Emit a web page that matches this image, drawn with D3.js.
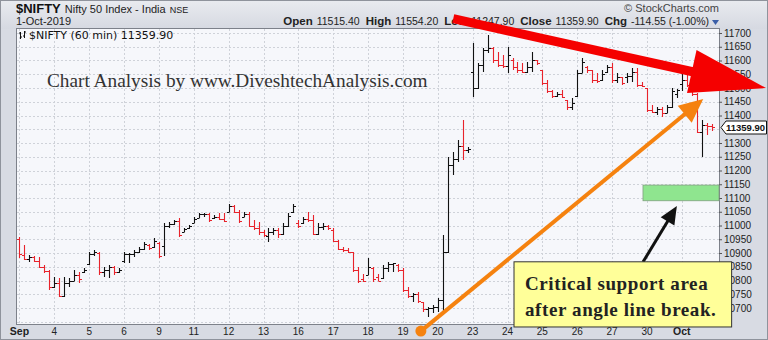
<!DOCTYPE html>
<html>
<head>
<meta charset="utf-8">
<script src="https://cdn.jsdelivr.net/npm/d3@7"></script>
<style>
  body { margin: 0; background: #fff; }
  svg { display: block; font-family: "Liberation Sans", Arial, sans-serif; }
</style>
</head>
<body>
<div id="chart"></div>
<script>
// session labels on the x axis (one per trading day)
const dayLabels = ["Sep", "4", "5", "6", "9", "11", "12", "13", "16", "17", "18", "19", "20", "23", "24", "25", "26", "27", "30", "Oct"];
const boldLabels = ["Sep", "Oct"];
const barsPerDay = 7;
const prevClose = 11023;

// 60 min bars: [open, high, low, close]
const hourly = [
  // Sep 3
  [10950, 10958, 10882, 10895], [10893, 10929, 10875, 10880], [10880, 10893, 10867, 10885], [10885, 10890, 10867, 10872],
  [10872, 10885, 10845, 10850], [10850, 10856, 10827, 10835], [10835, 10838, 10765, 10775],
  // Sep 4
  [10775, 10813, 10773, 10790], [10790, 10809, 10740, 10745], [10745, 10813, 10740, 10790], [10790, 10809, 10776, 10800],
  [10800, 10838, 10798, 10820], [10820, 10831, 10791, 10805], [10830, 10845, 10827, 10840],
  // Sep 5
  [10860, 10904, 10856, 10895], [10895, 10911, 10889, 10905], [10900, 10904, 10820, 10830], [10830, 10849, 10813, 10840],
  [10840, 10856, 10809, 10850], [10848, 10852, 10820, 10830], [10832, 10845, 10828, 10840],
  // Sep 6
  [10870, 10904, 10864, 10895], [10895, 10900, 10864, 10898], [10898, 10911, 10885, 10905], [10905, 10922, 10900, 10915],
  [10915, 10940, 10911, 10932], [10928, 10932, 10911, 10920], [10922, 10955, 10918, 10945],
  // Sep 9
  [10936, 10940, 10882, 10890], [10925, 11009, 10890, 11000], [11000, 11013, 10991, 11005], [11005, 11020, 11002, 11015],
  [11015, 11027, 10958, 10965], [10978, 10991, 10976, 10988], [10990, 11002, 10988, 10998],
  // Sep 11
  [11010, 11031, 11009, 11025], [11028, 11045, 11027, 11040], [11040, 11045, 11031, 11042], [11042, 11045, 11013, 11020],
  [11028, 11038, 11025, 11032], [11032, 11045, 11020, 11025], [11025, 11045, 11013, 11018],
  // Sep 12
  [11050, 11078, 11049, 11070], [11070, 11075, 11045, 11050], [11050, 11056, 11009, 11015], [11032, 11049, 11031, 11040],
  [11040, 11049, 10995, 11000], [11000, 11020, 10984, 10990], [10990, 11013, 10965, 10975],
  // Sep 13
  [10975, 10984, 10958, 10965], [10962, 10991, 10940, 10975], [10975, 10991, 10965, 10985], [10985, 10991, 10955, 10970],
  [10970, 11009, 10965, 11000], [11000, 11045, 10995, 11035], [11050, 11078, 11045, 11070],
  // Sep 16
  [11010, 11020, 10991, 11000], [11010, 11031, 11005, 11025], [11025, 11049, 11013, 11020], [11020, 11038, 10965, 10970],
  [10970, 11009, 10965, 10995], [10995, 11009, 10984, 11000], [11000, 11002, 10984, 10990],
  // Sep 17
  [10985, 10991, 10940, 10945], [10945, 10947, 10911, 10915], [10915, 10922, 10904, 10910], [10910, 10918, 10900, 10905],
  [10902, 10904, 10831, 10840], [10840, 10849, 10791, 10800], [10805, 10825, 10795, 10798],
  // Sep 18
  [10820, 10882, 10820, 10850], [10845, 10849, 10795, 10805], [10812, 10825, 10798, 10800], [10810, 10856, 10805, 10845],
  [10845, 10867, 10831, 10860], [10860, 10864, 10831, 10862], [10858, 10860, 10831, 10840],
  // Sep 19
  [10840, 10845, 10758, 10765], [10765, 10776, 10736, 10745], [10745, 10755, 10722, 10750], [10750, 10758, 10718, 10725],
  [10722, 10722, 10685, 10695], [10695, 10704, 10667, 10700], [10700, 10711, 10682, 10705],
  // Sep 20
  [10705, 10736, 10685, 10730], [10730, 10965, 10685, 10904], [10904, 11249, 10900, 11220], [11220, 11267, 11184, 11240],
  [11240, 11311, 11231, 11290], [11290, 11384, 11238, 11275], [11275, 11285, 11264, 11280],
  // Sep 23
  [11558, 11664, 11467, 11500], [11500, 11591, 11495, 11585], [11585, 11645, 11558, 11640], [11640, 11693, 11627, 11645],
  [11645, 11648, 11591, 11600], [11600, 11631, 11576, 11585], [11585, 11620, 11573, 11580],
  // Sep 24
  [11580, 11649, 11555, 11620], [11600, 11610, 11565, 11575], [11575, 11595, 11555, 11565], [11565, 11591, 11555, 11560],
  [11560, 11595, 11555, 11575], [11575, 11631, 11558, 11600], [11600, 11602, 11584, 11590],
  // Sep 25
  [11565, 11565, 11511, 11520], [11520, 11529, 11482, 11490], [11490, 11493, 11464, 11470], [11470, 11485, 11467, 11480],
  [11480, 11493, 11464, 11468], [11455, 11456, 11420, 11430], [11430, 11464, 11420, 11445],
  // Sep 26
  [11470, 11565, 11467, 11555], [11555, 11609, 11555, 11595], [11575, 11580, 11555, 11565], [11565, 11565, 11518, 11530],
  [11530, 11555, 11518, 11525], [11530, 11565, 11525, 11550], [11558, 11584, 11555, 11575],
  // Sep 27
  [11575, 11591, 11518, 11530], [11530, 11555, 11518, 11540], [11540, 11540, 11511, 11520], [11540, 11555, 11520, 11545],
  [11545, 11573, 11522, 11560], [11560, 11573, 11504, 11510], [11510, 11522, 11505, 11508],
  // Sep 30
  [11500, 11500, 11413, 11420], [11420, 11438, 11409, 11412], [11412, 11431, 11402, 11425], [11425, 11431, 11395, 11410],
  [11410, 11438, 11408, 11430], [11430, 11500, 11428, 11490], [11480, 11496, 11464, 11492],
  // Oct 1
  [11515.4, 11554.2, 11490, 11530], [11530, 11548, 11505, 11512], [11512, 11525, 11470, 11478], [11478, 11482, 11336, 11340],
  [11340, 11384, 11247.9, 11365], [11365, 11372, 11330, 11362], [11362, 11370, 11345, 11359.9]
];

const lastClose = 11359.90;
const headerFields = [["Open", "11515.40"], ["High", "11554.20"], ["Low", "11247.90"], ["Close", "11359.90"], ["Chg", "-114.55 (-1.00%)"]];
const yTicks = d3.range(10700, 11701, 50);

// hand drawn annotations, in (bar index, price) units
const redArrow = [[87.6, 11752], [150.4, 11500]];
const orangeArrow = [[81.1, 10616], [137.8, 11460]];
const blackArrow = [[125.7, 10867], [132.5, 11071]];
const supportZone = [11090, 11147];
const supportFromBar = 125.7;
const noteBox = [[99.8, 10868], [143.5, 10631]];
const noteLines = ["Critical support area", "after angle line break."];

const W = 768, H = 340;
const plot = {left: 17, right: 719, top: 29, bottom: 324};

const svg = d3.select("#chart").append("svg")
    .attr("width", W)
    .attr("height", H);

const x = d3.scaleLinear().domain([0, 140]).range([17, 714.2]);
const y = d3.scaleLinear().domain([10700, 11700]).range([308, 33]);

// frame
const defs = svg.append("defs");
const grad = defs.append("linearGradient").attr("id", "hdr").attr("x1", 0).attr("y1", 0).attr("x2", 0).attr("y2", 1);
grad.append("stop").attr("offset", "0%").attr("stop-color", "#e9ebf0");
grad.append("stop").attr("offset", "100%").attr("stop-color", "#d6d9e1");
defs.append("clipPath").attr("id", "plotclip")
  .append("rect")
    .attr("x", plot.left).attr("y", plot.top)
    .attr("width", plot.right - plot.left).attr("height", plot.bottom - plot.top);

svg.append("rect").attr("width", W).attr("height", H).attr("fill", "#d8dbe3");
svg.append("rect").attr("width", W).attr("height", 29).attr("fill", "url(#hdr)");
svg.append("rect").attr("x", 0.5).attr("y", 0.5).attr("width", W - 1).attr("height", H - 1)
    .attr("fill", "none").attr("stroke", "#8f939c");

svg.append("rect")
    .attr("x", plot.left).attr("y", plot.top)
    .attr("width", plot.right - plot.left).attr("height", plot.bottom - plot.top)
    .attr("fill", "#f6f7fb");

// grid
const grid = svg.append("g").attr("clip-path", "url(#plotclip)")
    .attr("stroke", "#cfd2d9").attr("stroke-dasharray", "2,2").attr("stroke-width", 1);
grid.selectAll(".hg").data(d3.range(10650, 11701, 50)).enter().append("line")
    .attr("x1", plot.left).attr("x2", plot.right)
    .attr("y1", d => Math.round(y(d)) + 0.5).attr("y2", d => Math.round(y(d)) + 0.5);
grid.selectAll(".vg").data(dayLabels).enter().append("line")
    .attr("x1", (d, i) => Math.round(x(i * barsPerDay + 0.5)) + 0.5)
    .attr("x2", (d, i) => Math.round(x(i * barsPerDay + 0.5)) + 0.5)
    .attr("y1", plot.top).attr("y2", plot.bottom);

svg.append("rect")
    .attr("x", plot.left - 0.5).attr("y", plot.top - 0.5)
    .attr("width", plot.right - plot.left + 1).attr("height", plot.bottom - plot.top + 1)
    .attr("fill", "none").attr("stroke", "#7d818a");

// price bars
const bars = svg.append("g").attr("clip-path", "url(#plotclip)");
bars.selectAll("path").data(hourly).enter().append("path")
    .attr("d", function(d, i) {
        let cx = Math.round(x(i + 0.5)) + 0.5;
        let yo = Math.round(y(d[0])) + 0.5, yc = Math.round(y(d[3])) + 0.5;
        return "M" + cx + "," + Math.round(y(d[1])) + "V" + Math.round(y(d[2]))
            + "M" + (cx - 2.5) + "," + yo + "H" + cx
            + "M" + cx + "," + yc + "H" + (cx + 2.5);
    })
    .attr("fill", "none")
    .attr("stroke-width", 1.1)
    .attr("stroke", function(d, i) {
        let before = i === 0 ? prevClose : hourly[i - 1][3];
        return d[3] >= before ? "#111" : "#e8232b";
    });

// y axis on the right (the label under the last price tag is hidden)
const yAxis = svg.append("g")
    .attr("transform", "translate(" + plot.right + ",0)")
    .call(d3.axisRight(y).tickValues(yTicks.filter(v => Math.abs(y(v) - y(lastClose)) > 9))
        .tickSize(3).tickPadding(2).tickFormat(d3.format("d")));
yAxis.select(".domain").remove();
yAxis.selectAll("line").attr("stroke", "#555");
yAxis.selectAll("text").attr("font-size", 10).attr("fill", "#222")
    .attr("font-family", "Liberation Sans, Arial, sans-serif");

// x axis labels
svg.selectAll(".xl").data(dayLabels).enter().append("text")
    .attr("x", (d, i) => x(i * barsPerDay + 0.5))
    .attr("y", 335)
    .attr("text-anchor", "middle")
    .attr("font-size", d => boldLabels.includes(d) ? 10.5 : 10)
    .attr("font-weight", d => boldLabels.includes(d) ? "bold" : "normal")
    .attr("fill", "#222")
    .text(d => d);

// header
const title = svg.append("text").attr("x", 16).attr("y", 13).attr("fill", "#111");
title.append("tspan").attr("font-size", 13).attr("font-weight", "bold").text("$NIFTY");
title.append("tspan").attr("font-size", 11).attr("dx", 4).attr("fill", "#222").text("Nifty 50 Index - India");
title.append("tspan").attr("font-size", 9).attr("dx", 4).attr("fill", "#222").text("NSE");
svg.append("text").attr("x", 16).attr("y", 25).attr("font-size", 11).attr("fill", "#222").text("1-Oct-2019");
svg.append("text").attr("x", 719).attr("y", 12).attr("text-anchor", "end").attr("font-size", 11).attr("fill", "#444")
    .text("\u00a9 StockCharts.com");

const info = svg.append("text").attr("x", 709).attr("y", 25).attr("text-anchor", "end").attr("fill", "#222");
headerFields.forEach(function(f, i) {
    info.append("tspan").attr("font-weight", "bold").attr("font-size", 11.5).attr("dx", i ? 6 : 0).text(f[0]);
    info.append("tspan").attr("font-size", 10.5).attr("dx", 4).text(f[1]);
});
svg.append("path").attr("d", "M712,20H719L715.5,25Z").attr("fill", "#3a5ea8");

// legend line in the plot
const lg = svg.append("g");
lg.append("path").attr("d", "M20.5,32V39M19,33H20.5M20.5,37H22").attr("stroke", "#111").attr("fill", "none");
lg.append("path").attr("d", "M24.5,31V38M23,36H24.5M24.5,32H26").attr("stroke", "#111").attr("fill", "none");
lg.append("text").attr("x", 29).attr("y", 39).attr("font-family", "DejaVu Sans, sans-serif").attr("font-size", 11)
    .attr("fill", "#111").text("$NIFTY (60 min) 11359.90");

// watermark
svg.append("text").attr("x", 47).attr("y", 87)
    .attr("font-family", "Liberation Serif, serif").attr("font-size", 19.3).attr("fill", "#333")
    .text("Chart Analysis by www.DiveshtechAnalysis.com");

// last price tag
const yc = Math.round(y(lastClose)) + 0.5;
svg.append("path")
    .attr("d", "M721," + yc + "L726," + (yc - 6.5) + "H766.5V" + (yc + 6.5) + "H726Z")
    .attr("fill", "#fff").attr("stroke", "#111");
svg.append("text").attr("x", 726).attr("y", yc + 3.5).attr("font-size", 9.5).attr("font-weight", "bold")
    .attr("fill", "#111").text(d3.format(".2f")(lastClose));

// support zone
svg.append("rect")
    .attr("x", x(supportFromBar)).attr("y", y(supportZone[1]))
    .attr("width", plot.right - x(supportFromBar)).attr("height", y(supportZone[0]) - y(supportZone[1]))
    .attr("fill", "#8fe58f").attr("stroke", "#7fa07f").attr("stroke-width", 0.8);

// arrow helper: shaft + triangular head
function arrow(pts, color, width, headLen, headHalf) {
    let x0 = x(pts[0][0]), y0 = y(pts[0][1]);
    let x1 = x(pts[1][0]), y1 = y(pts[1][1]);
    let len = Math.hypot(x1 - x0, y1 - y0);
    let ux = (x1 - x0) / len, uy = (y1 - y0) / len;
    let bx = x1 - ux * headLen, by = y1 - uy * headLen;
    svg.append("line")
        .attr("x1", x0).attr("y1", y0).attr("x2", bx + ux * 2).attr("y2", by + uy * 2)
        .attr("stroke", color).attr("stroke-width", width);
    svg.append("path")
        .attr("d", "M" + x1 + "," + y1
            + "L" + (bx - uy * headHalf) + "," + (by + ux * headHalf)
            + "L" + (bx + uy * headHalf) + "," + (by - ux * headHalf) + "Z")
        .attr("fill", color);
    return [x0, y0];
}

arrow(redArrow, "#f50000", 9, 76, 22);
let start = arrow(orangeArrow, "#f5820f", 4, 24, 11);
svg.append("circle").attr("cx", start[0]).attr("cy", start[1]).attr("r", 5.5).attr("fill", "#f5820f");
arrow(blackArrow, "#111", 3, 18, 8);

// note box
let bx0 = x(noteBox[0][0]), by0 = y(noteBox[0][1]);
let bx1 = x(noteBox[1][0]), by1 = y(noteBox[1][1]);
svg.append("rect")
    .attr("x", bx0).attr("y", by0).attr("width", bx1 - bx0).attr("height", by1 - by0)
    .attr("fill", "#ffff99").attr("stroke", "#333").attr("stroke-width", 1);
svg.selectAll(".note").data(noteLines).enter().append("text")
    .attr("x", bx0 + 11)
    .attr("y", (d, i) => by0 + 28 + i * 26)
    .attr("font-family", "Liberation Serif, serif")
    .attr("font-size", 19)
    .attr("letter-spacing", 0.6)
    .attr("font-weight", "bold")
    .attr("fill", "#222")
    .text(d => d);
</script>
</body>
</html>
